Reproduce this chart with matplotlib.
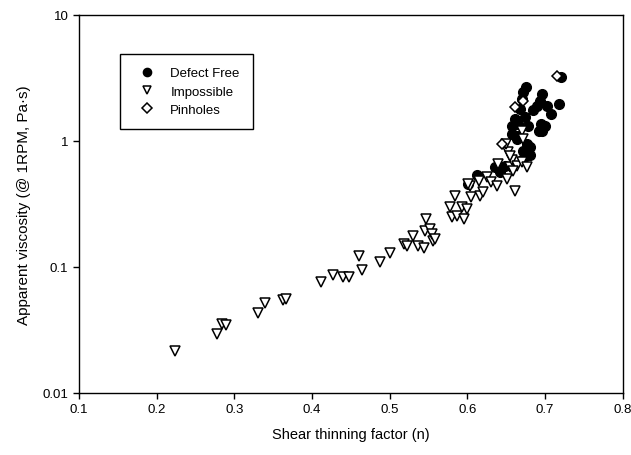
import matplotlib
matplotlib.use("Agg")
import matplotlib.pyplot as plt

plt.rcParams['font.family'] = ['Liberation Sans', 'DejaVu Sans']

#Impossible samples (shear thinning factor, viscosity)
impX = [0.2235, 0.278, 0.2836, 0.289, 0.331, 0.339, 0.363, 0.366, 0.411, 0.427,
	0.44, 0.447, 0.46, 0.4646, 0.487, 0.50, 0.518, 0.5225, 0.530, 0.537,
	0.544, 0.545, 0.5556, 0.547, 0.552, 0.554, 0.558, 0.5775, 0.584, 0.58,
	0.586, 0.5925, 0.595, 0.599, 0.603, 0.605, 0.616, 0.62, 0.601, 0.615,
	0.625, 0.631, 0.6375, 0.639, 0.651, 0.6545, 0.6525, 0.661, 0.657, 0.65,
	0.6545, 0.664, 0.67, 0.6765, 0.67, 0.6715, 0.659]
impY = [0.0217, 0.0294, 0.0353, 0.0348, 0.043, 0.0518, 0.055, 0.0557, 0.0757, 0.0865,
	0.0837, 0.0837, 0.123, 0.0952, 0.109, 0.128, 0.152, 0.148, 0.177, 0.148,
	0.141, 0.194, 0.162, 0.24, 0.2, 0.183, 0.167, 0.298, 0.368, 0.248,
	0.256, 0.298, 0.24, 0.288, 0.44, 0.357, 0.368, 0.39, 0.456, 0.484,
	0.515, 0.47, 0.44, 0.656, 0.5, 0.618, 0.81, 0.40, 0.70, 0.946,
	0.764, 0.637, 0.677, 0.618, 1.2, 1.04, 0.58]

#Defect free samples
freeX = [0.601, 0.612, 0.635, 0.642, 0.648, 0.6715, 0.664, 0.657, 0.662, 0.6765,
	0.681, 0.696, 0.70, 0.72, 0.7175, 0.707, 0.6945, 0.692, 0.676, 0.672,
	0.670, 0.696, 0.694, 0.69, 0.7025, 0.661, 0.657, 0.665, 0.674, 0.678,
	0.664, 0.685, 0.668, 0.68, 0.672]
freeY = [0.456, 0.537, 0.618, 0.563, 0.637, 0.72, 1.04, 1.14, 1.41, 0.946,
	0.89, 1.2, 1.32, 3.2, 1.97, 1.64, 1.36, 1.2, 2.67, 2.44,
	2.15, 2.36, 2.09, 1.9, 1.9, 1.5, 1.32, 1.36, 1.55, 1.32,
	1.1, 1.75, 1.8, 0.78, 0.84]

#Pinholes samples
pinX = [0.7155, 0.661, 0.672, 0.645]
pinY = [3.3, 1.85, 2.09, 0.946]

fig = plt.figure(figsize=(6.31, 4.56), dpi=100)
ax = fig.add_axes([0.125, 0.136, 0.862, 0.829])

ax.plot(freeX, freeY, 'o', color='black', markersize=7, label="Defect Free", zorder=2)
ax.plot(impX, impY, 'v', markerfacecolor='white', markeredgecolor='black',
	markeredgewidth=1.1, markersize=6.5, label="Impossible", zorder=3)
ax.plot(pinX, pinY, 'D', markerfacecolor='white', markeredgecolor='black',
	markeredgewidth=1.1, markersize=5.5, label="Pinholes", zorder=4)

ax.set_yscale('log')
ax.set_xlim(0.1, 0.8)
ax.set_ylim(0.01, 10)
ax.set_xticks([0.1, 0.2, 0.3, 0.4, 0.5, 0.6, 0.7, 0.8])
ax.set_xticklabels(['0.1', '0.2', '0.3', '0.4', '0.5', '0.6', '0.7', '0.8'])
ax.set_yticks([0.01, 0.1, 1, 10])
ax.set_yticklabels(['0.01', '0.1', '1', '10'])
ax.minorticks_off()
ax.tick_params(direction='out', length=4, width=1, labelsize=9.5)

ax.set_xlabel("Shear thinning factor (n)", fontsize=10.5, labelpad=8)
ax.set_ylabel("Apparent viscosity (@ 1RPM, Pa·s)", fontsize=11, labelpad=8)

for s in ax.spines.values() :
	s.set_linewidth(1)

leg = ax.legend(loc='upper left', bbox_to_anchor=(0.076, 0.897), fontsize=9.5,
	fancybox=False, edgecolor='black', framealpha=1, borderpad=1.0,
	handletextpad=0.8, labelspacing=0.45, borderaxespad=0, markerscale=0.85)
leg.get_frame().set_linewidth(1)

fig.savefig("out.png", dpi=100)
